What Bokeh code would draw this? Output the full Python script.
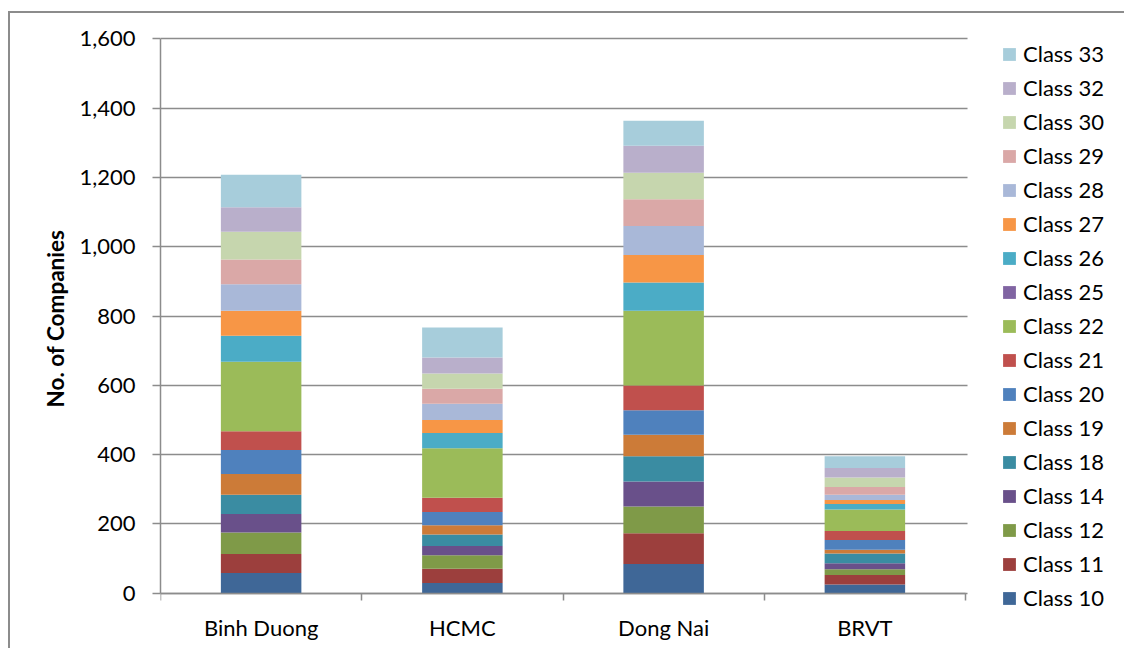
from bokeh.plotting import figure
from bokeh.models import (ColumnDataSource, Legend, LegendItem, FixedTicker,
                          NumeralTickFormatter, Range1d, BoxAnnotation, Title)
from bokeh.embed import file_html
from bokeh.resources import INLINE

# Number of companies per class, by province
regions = ["Binh Duong", "HCMC", "Dong Nai", "BRVT"]
classes = ["Class 10", "Class 11", "Class 12", "Class 14", "Class 18", "Class 19",
           "Class 20", "Class 21", "Class 22", "Class 25", "Class 26", "Class 27",
           "Class 28", "Class 29", "Class 30", "Class 32", "Class 33"]

class_10 = [58, 29, 84, 25]
class_11 = [55, 41, 89, 27]
class_12 = [62, 39, 77, 17]
class_14 = [53, 27, 72, 17]
class_18 = [56, 33, 73, 28]
class_19 = [60, 27, 62, 11]
class_20 = [69, 38, 71, 28]
class_21 = [54, 41, 71, 26]
class_22 = [201, 143, 216, 62]
class_25 = [0, 0, 0, 0]
class_26 = [75, 44, 82, 16]
class_27 = [72, 38, 79, 12]
class_28 = [77, 47, 84, 15]
class_29 = [71, 43, 77, 22]
class_30 = [80, 44, 77, 28]
class_32 = [71, 46, 78, 27]
class_33 = [94, 87, 72, 34]

series = [class_10, class_11, class_12, class_14, class_18, class_19, class_20,
          class_21, class_22, class_25, class_26, class_27, class_28, class_29,
          class_30, class_32, class_33]

colors = ["#3F6797", "#9C3F3D", "#7F9A48", "#69508A", "#3A8CA2", "#CC7B38",
          "#4F81BD", "#C0504D", "#9BBB59", "#8064A2", "#4BACC6", "#F79646",
          "#A9B8D8", "#DAA8A7", "#C6D6AE", "#B9AFCB", "#A7CDDB"]

y_ticks = [0, 200, 400, 600, 800, 1000, 1200, 1400, 1600]

FONT = "Lato"
GRID = "#8c8c8c"
N = len(regions)

data = {"x": [i + 0.5 for i in range(N)]}
for name, vals in zip(classes, series):
    data[name] = vals
source = ColumnDataSource(data)

# The frame fills the canvas right of the y axis; the value axis keeps
# 0..1600 and the category axis sits at y = 0, leaving room for the legend.
p = figure(width=1116, height=637, output_backend="svg", toolbar_location=None,
           x_range=Range1d(0, N + 0.8), y_range=Range1d(-165.9, 1673.6),
           min_border_left=150, min_border_right=0, min_border_top=0,
           min_border_bottom=0)
p.styles = {"border-left": "2px solid #8c8c8c", "border-top": "2px solid #8c8c8c",
            "margin-left": "8px", "margin-top": "11px"}
p.outline_line_color = None
p.background_fill_color = "white"
p.border_fill_color = "white"

renderers = p.vbar_stack(classes, x="x", width=0.4, color=colors,
                         line_color=None, source=source)

# y axis
p.yaxis.bounds = (0, 1600)
p.yaxis.ticker = FixedTicker(ticks=y_ticks)
p.yaxis.formatter = NumeralTickFormatter(format="0,0")
p.yaxis.major_label_text_font = FONT
p.yaxis.major_label_text_font_size = "22px"
p.yaxis.major_label_text_color = "black"
p.yaxis.major_label_standoff = 17
p.yaxis.major_tick_out = 8
p.yaxis.major_tick_in = 0
p.yaxis.minor_tick_line_color = None
p.yaxis.axis_line_color = GRID
p.yaxis.axis_line_width = 1.5
p.yaxis.major_tick_line_color = GRID
p.yaxis.major_tick_line_width = 1.5

# y axis title, centred on the 0..1600 span
p.add_layout(Title(text="No. of Companies", align="left", offset=243,
                   standoff=15, text_font=FONT, text_font_style="bold",
                   text_font_size="22.5px", text_color="black"), "left")

# x axis: labels under the bars, tick marks between categories
p.xaxis.fixed_location = 0
p.xaxis.bounds = (0, N)
p.xaxis.ticker = FixedTicker(ticks=data["x"], minor_ticks=list(range(N + 1)))
p.xaxis.major_label_overrides = {x: r for x, r in zip(data["x"], regions)}
p.xaxis.major_label_text_font = FONT
p.xaxis.major_label_text_font_size = "22px"
p.xaxis.major_label_text_color = "black"
p.xaxis.major_label_standoff = 14
p.xaxis.major_tick_line_color = None
p.xaxis.minor_tick_out = 7
p.xaxis.minor_tick_in = 0
p.xaxis.minor_tick_line_color = GRID
p.xaxis.minor_tick_line_width = 1.5
p.xaxis.axis_line_color = GRID
p.xaxis.axis_line_width = 1.5

p.xgrid.grid_line_color = None
p.ygrid.ticker = FixedTicker(ticks=y_ticks)
p.ygrid.grid_line_color = GRID
p.ygrid.grid_line_width = 1.5

# blank out the grid lines to the right of the plot area
p.add_layout(BoxAnnotation(left=N + 0.01, fill_color="white", fill_alpha=1,
                           line_color=None))

items = [LegendItem(label=name, renderers=[r])
         for name, r in zip(classes[::-1], renderers[::-1])]
legend = Legend(items=items, location=(841, 39), padding=0, margin=0,
                spacing=7, glyph_width=16, glyph_height=16, label_standoff=6,
                label_height=20, label_text_font=FONT,
                label_text_font_size="22px", label_text_color="black",
                border_line_color=None, background_fill_alpha=0)
p.add_layout(legend)

open("out.html", "w").write(file_html(p, INLINE))
